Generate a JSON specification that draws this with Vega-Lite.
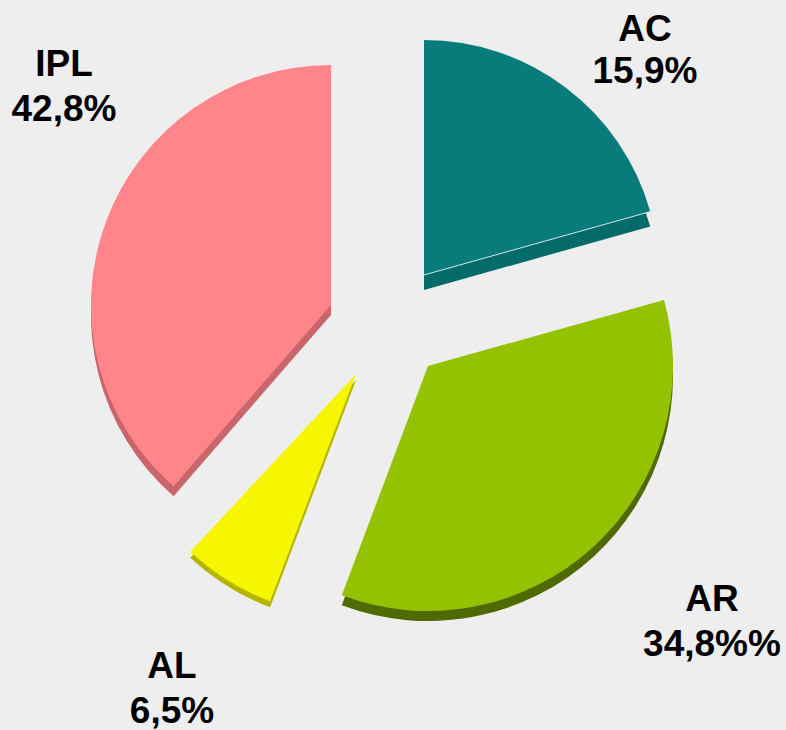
{"$schema":"https://vega.github.io/schema/vega-lite/v6.json","width":786,"height":730,"padding":0,"autosize":{"type":"fit","contains":"padding"},"background":"#eeeeee","view":{"stroke":null},
"datasets":{"s":[
{"part":"IPL","share":42.8,"cx":331,"cy":305,"a0":221,"a1":360,"r":240,"cyd":315},
{"part":"AL","share":6.5,"cx":356,"cy":374,"a0":200.7,"a1":223,"r":243,"cyd":380},
{"part":"AR","share":34.8,"cx":428,"cy":366,"a0":74.4,"a1":200.6,"r":245,"cyd":376},
{"part":"AC","share":15.9,"cx":424,"cy":275,"a0":0,"a1":74.3,"r":235,"cyd":290}],
"e":[{"x":424,"y":275,"x2":656,"y2":210}],
"l":[{"t":"AC","x":645,"y":30},{"t":"15,9%","x":645,"y":72},{"t":"IPL","x":64,"y":65},{"t":"42,8%","x":64,"y":110},{"t":"AR","x":712,"y":600},{"t":"34,8%%","x":712,"y":645},{"t":"AL","x":172,"y":667},{"t":"6,5%","x":172,"y":712}]},
"layer":[
{"data":{"name":"s"},"mark":{"type":"arc"},"encoding":{"x":{"field":"cx","type":"quantitative","scale":{"domain":[0,786]},"axis":null},"y":{"field":"cyd","type":"quantitative","scale":{"domain":[730,0]},"axis":null},"theta":{"field":"a0","type":"quantitative","scale":{"domain":[0,360],"range":[0,6.2832]}},"theta2":{"field":"a1"},"radius":{"field":"r","type":"quantitative","scale":{"domain":[0,250],"range":[0,250]}},"color":{"field":"part","type":"nominal","legend":null,"scale":{"domain":["AC","AR","AL","IPL"],"range":["#056a6a","#4f6a00","#b5b500","#c9666b"]}}}},
{"data":{"name":"s"},"mark":{"type":"arc"},"encoding":{"x":{"field":"cx","type":"quantitative","scale":{"domain":[0,786]},"axis":null},"y":{"field":"cy","type":"quantitative","scale":{"domain":[730,0]},"axis":null},"theta":{"field":"a0","type":"quantitative","scale":{"domain":[0,360],"range":[0,6.2832]}},"theta2":{"field":"a1"},"radius":{"field":"r","type":"quantitative","scale":{"domain":[0,250],"range":[0,250]}},"fill":{"field":"part","type":"nominal","legend":null,"scale":{"domain":["AC","AR","AL","IPL"],"range":["#0a7b7b","#94c200","#f6f600","#ff858a"]}}}},
{"data":{"name":"e"},"mark":{"type":"rule","color":"#cfe8e8","strokeWidth":1},"encoding":{"x":{"field":"x","type":"quantitative","scale":{"domain":[0,786]},"axis":null},"y":{"field":"y","type":"quantitative","scale":{"domain":[730,0]},"axis":null},"x2":{"field":"x2"},"y2":{"field":"y2"}}},
{"data":{"name":"l"},"mark":{"type":"text","font":"Liberation Sans","fontWeight":"bold","fontSize":37,"color":"#000000","align":"center","baseline":"middle"},"encoding":{"x":{"field":"x","type":"quantitative","scale":{"domain":[0,786]},"axis":null},"y":{"field":"y","type":"quantitative","scale":{"domain":[730,0]},"axis":null},"text":{"field":"t","type":"nominal"}}}
],"resolve":{"scale":{"color":"independent"}}}
